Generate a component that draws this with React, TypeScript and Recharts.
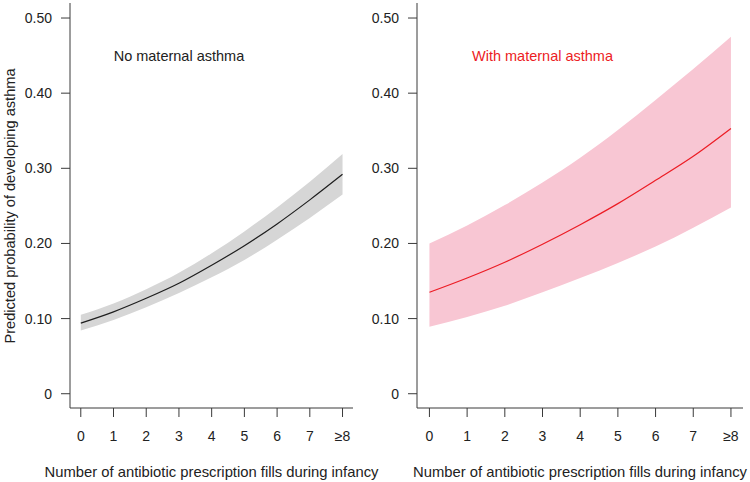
import React from "react"
import { ComposedChart, Area, Line, XAxis, YAxis, ReferenceDot, Label } from "recharts"

const fills = [0, 1, 2, 3, 4, 5, 6, 7, 8]
const yTicks = [0, 0.1, 0.2, 0.3, 0.4, 0.5]

const noAsthmaFit = [0.094, 0.109, 0.127, 0.147, 0.171, 0.197, 0.226, 0.258, 0.292]
const noAsthmaLower = [0.084, 0.098, 0.115, 0.134, 0.155, 0.178, 0.205, 0.234, 0.265]
const noAsthmaUpper = [0.105, 0.12, 0.139, 0.161, 0.187, 0.216, 0.248, 0.282, 0.319]

const withAsthmaFit = [0.135, 0.154, 0.175, 0.199, 0.225, 0.253, 0.284, 0.316, 0.353]
const withAsthmaLower = [0.089, 0.102, 0.117, 0.135, 0.154, 0.174, 0.196, 0.221, 0.248]
const withAsthmaUpper = [0.2, 0.224, 0.251, 0.281, 0.314, 0.351, 0.391, 0.432, 0.475]

const FONT = "'Liberation Sans', Arial, sans-serif"
const AXIS = "#3a3a3a"
const TEXT = "#222"

const buildRows = (fit: number[], lower: number[], upper: number[]) =>
  fills.map((x, i) => ({ x, fit: fit[i], band: [lower[i], upper[i]] }))

const fmtX = (v: number) => (v === 8 ? "\u22658" : String(v))
const fmtY = (v: number) => (v === 0 ? "0" : v.toFixed(2))

interface PanelProps {
  rows: Array<{ x: number; fit: number; band: number[] }>
  left: number
  width: number
  yAxisWidth: number
  rightMargin: number
  lineColor: string
  bandColor: string
  title: string
  titleColor: string
  showYLabel?: boolean
}

const Panel = ({ rows, left, width, yAxisWidth, rightMargin, lineColor, bandColor, title, titleColor, showYLabel }: PanelProps) => (
  <div style={{ position: "absolute", left, top: 0 }}>
    <ComposedChart
      width={width}
      height={482}
      data={rows}
      margin={{ top: 3, right: rightMargin, bottom: 0, left: 0 }}
    >
      <XAxis
        dataKey="x"
        type="number"
        domain={[-0.33, 8.32]}
        ticks={fills}
        tickFormatter={fmtX}
        height={74}
        tickSize={9}
        tickMargin={14}
        stroke={AXIS}
        tick={{ fill: TEXT, fontSize: 14, fontFamily: FONT }}
        allowDataOverflow
      >
        <Label
          value="Number of antibiotic prescription fills during infancy"
          position="insideBottom"
          offset={5}
          style={{ fill: TEXT, fontSize: 14.8, fontFamily: FONT }}
        />
      </XAxis>
      <YAxis
        type="number"
        domain={[-0.019, 0.52]}
        ticks={yTicks}
        tickFormatter={fmtY}
        width={yAxisWidth}
        tickSize={9}
        tickMargin={9}
        stroke={AXIS}
        tick={{ fill: TEXT, fontSize: 14, fontFamily: FONT }}
        allowDataOverflow
      >
        {showYLabel && (
          <Label
            content={() => (
              <text
                x={14.5}
                y={206}
                transform="rotate(-90 14.5 206)"
                textAnchor="middle"
                fill={TEXT}
                fontSize={14.6}
                fontFamily={FONT}
              >
                Predicted probability of developing asthma
              </text>
            )}
          />
        )}
      </YAxis>
      <Area
        dataKey="band"
        type="monotone"
        stroke="none"
        fill={bandColor}
        fillOpacity={1}
        isAnimationActive={false}
      />
      <Line
        dataKey="fit"
        type="monotone"
        stroke={lineColor}
        strokeWidth={1.2}
        dot={false}
        activeDot={false}
        isAnimationActive={false}
      />
      <ReferenceDot
        x={3}
        y={0.45}
        r={0}
        ifOverflow="visible"
        shape={(p: any) => (
          <text
            x={p.cx}
            y={p.cy}
            dy="0.35em"
            textAnchor="middle"
            fill={titleColor}
            fontSize={14.5}
            fontFamily={FONT}
          >
            {title}
          </text>
        )}
      />
    </ComposedChart>
  </div>
)

export default function App() {
  return (
    <div style={{ position: "absolute", left: 0, top: 0, width: 750, height: 482, background: "#fff", fontFamily: FONT }}>
      <Panel
        rows={buildRows(noAsthmaFit, noAsthmaLower, noAsthmaUpper)}
        left={0}
        width={400}
        yAxisWidth={70}
        rightMargin={47}
        lineColor="#1e1e1e"
        bandColor="#d6d6d6"
        title="No maternal asthma"
        titleColor={TEXT}
        showYLabel
      />
      <Panel
        rows={buildRows(withAsthmaFit, withAsthmaLower, withAsthmaUpper)}
        left={340}
        width={410}
        yAxisWidth={77}
        rightMargin={7}
        lineColor="#ec1c24"
        bandColor="#f8c6d3"
        title="With maternal asthma"
        titleColor="#ec1c24"
      />
    </div>
  )
}
